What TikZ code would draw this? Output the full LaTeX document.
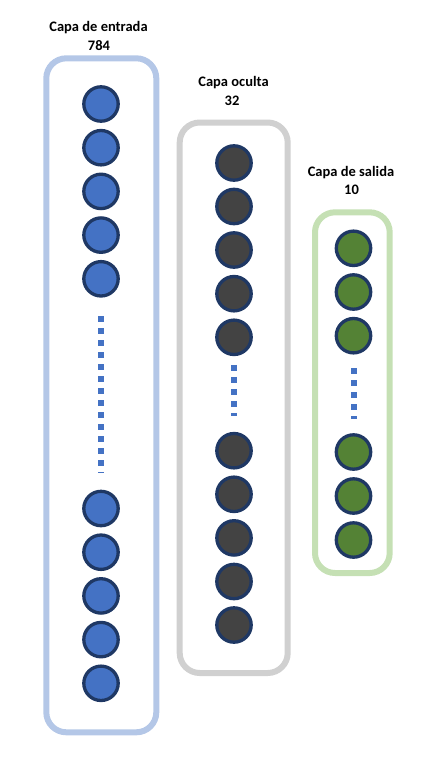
\documentclass[tikz,border=0pt]{standalone}
\usepackage{fontspec}
\setmainfont{Carlito}
\usetikzlibrary{shapes,arrows}
\definecolor{inblue}{HTML}{4472C4}
\definecolor{hidgrey}{HTML}{434343}
\definecolor{outgreen}{HTML}{548235}
\definecolor{ringnavy}{HTML}{1F3864}
\definecolor{boxblue}{HTML}{B4C7E7}
\definecolor{boxgrey}{HTML}{D0D0D0}
\definecolor{boxgreen}{HTML}{C5E0B4}

\begin{document}
\begin{tikzpicture}[x=1pt,y=-1pt,
  neuron/.style={circle,draw=ringnavy,line width=3.3pt,minimum size=34.4pt,inner sep=0pt},
  layerbox/.style={rounded corners=20pt,line width=6pt},
  vdots/.style={draw=inblue,line width=6pt,dash pattern=on 6pt off 6pt},
  caption/.style={font=\fontsize{14.5}{17}\selectfont\bfseries,anchor=base,inner sep=0pt}]
\useasboundingbox (0,0) rectangle (432,780);
% layer frames
\draw[layerbox,boxblue] (46.3,58.3) rectangle (156.3,732.3);
\draw[layerbox,boxgrey] (179.7,122.5) rectangle (287.7,673);
\draw[layerbox,boxgreen] (315,212.3) rectangle (389.7,573);
% titles
\node[caption] (tin) at (98.5,31) {Capa de entrada};
\node[caption] (nin) at (99,50.7) {784};
\node[caption] (thid) at (233.5,86.5) {Capa oculta};
\node[caption] (nhid) at (232,105.7) {32};
\node[caption] (tout) at (351,176) {Capa de salida};
\node[caption] (nout) at (351.5,194.3) {10};
% input layer
\node[neuron,fill=inblue] (in1) at (101,104) {};
\node[neuron,fill=inblue] (in2) at (101,147.7) {};
\node[neuron,fill=inblue] (in3) at (101,191.4) {};
\node[neuron,fill=inblue] (in4) at (101,235.1) {};
\node[neuron,fill=inblue] (in5) at (101,278.8) {};
\node[neuron,fill=inblue] (in6) at (101,508.5) {};
\node[neuron,fill=inblue] (in7) at (101,552.2) {};
\node[neuron,fill=inblue] (in8) at (101,595.9) {};
\node[neuron,fill=inblue] (in9) at (101,639.6) {};
\node[neuron,fill=inblue] (in10) at (101,683.3) {};
% hidden layer
\node[neuron,fill=hidgrey] (h1) at (234,163) {};
\node[neuron,fill=hidgrey] (h2) at (234,206.5) {};
\node[neuron,fill=hidgrey] (h3) at (234,250) {};
\node[neuron,fill=hidgrey] (h4) at (234,293.7) {};
\node[neuron,fill=hidgrey] (h5) at (234,337.3) {};
\node[neuron,fill=hidgrey] (h6) at (234,450.7) {};
\node[neuron,fill=hidgrey] (h7) at (234,494.3) {};
\node[neuron,fill=hidgrey] (h8) at (234,537.9) {};
\node[neuron,fill=hidgrey] (h9) at (234,581.5) {};
\node[neuron,fill=hidgrey] (h10) at (234,625) {};
% output layer
\node[neuron,fill=outgreen] (o1) at (353.5,248.3) {};
\node[neuron,fill=outgreen] (o2) at (353.5,292) {};
\node[neuron,fill=outgreen] (o3) at (353.5,335.7) {};
\node[neuron,fill=outgreen] (o4) at (353.5,452) {};
\node[neuron,fill=outgreen] (o5) at (353.5,496) {};
\node[neuron,fill=outgreen] (o6) at (353.5,540) {};
% skipped units
\draw[vdots] ([yshift=-18.4pt]in5.south) -- ([yshift=16.6pt]in6.north);
\draw[vdots] ([yshift=-8.8pt]h5.south) -- ([yshift=16.2pt]h6.north);
\draw[vdots] ([yshift=-13.8pt]o3.south) -- ([yshift=14.4pt]o4.north);
\end{tikzpicture}
\end{document}
